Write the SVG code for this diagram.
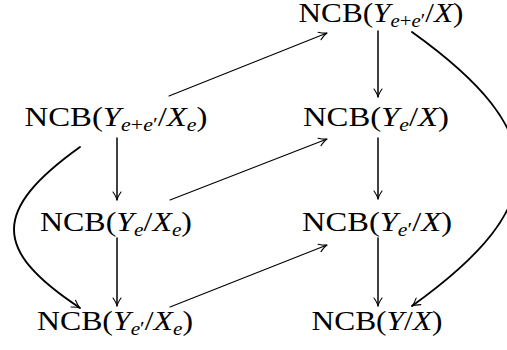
<svg xmlns="http://www.w3.org/2000/svg" width="507" height="350" viewBox="0 0 507 350">
<style>
.lbl{font-family:"Liberation Serif","Times New Roman",serif;font-size:27px;fill:#000;text-anchor:middle}
.it{font-style:italic}
.sb{font-size:18px}
.ln{fill:none;stroke:#000;stroke-linecap:round}
.v{stroke-width:1.5}
.d{stroke-width:1.1}
.c{stroke-width:1.9}
</style>
<defs>
<marker id="ah" viewBox="-10 -6 12 12" refX="0" refY="0" markerWidth="12" markerHeight="12" markerUnits="userSpaceOnUse" orient="auto" overflow="visible">
<path d="M -8 -4 Q -3 -0.6 0 0 Q -3 0.6 -8 4" fill="none" stroke="#000" stroke-width="1.1" stroke-linecap="round"/>
</marker>
</defs>
<rect width="507" height="350" fill="#fff"/>
<g id="connectors">
<path class="ln v" d="M378 31 L378 97" marker-end="url(#ah)"/>
<path class="ln v" d="M378 138 L378 199" marker-end="url(#ah)"/>
<path class="ln v" d="M378 238 L378 306" marker-end="url(#ah)"/>
<path class="ln v" d="M117 138 L117 200" marker-end="url(#ah)"/>
<path class="ln v" d="M117 238 L117 306" marker-end="url(#ah)"/>
<path class="ln d" d="M169 96 L327 33" marker-end="url(#ah)"/>
<path class="ln d" d="M170 200 L327 139" marker-end="url(#ah)"/>
<path class="ln d" d="M170 307 L327 245" marker-end="url(#ah)"/>
<path class="ln c" d="M80 147 C -8 210 -8 250 80 308" marker-end="url(#ah)"/>
<path class="ln c" d="M412 32 C 553 133 553 205 412 306" marker-end="url(#ah)"/>
</g>
<g id="n-top">
<text class="lbl" x="381" y="22" textLength="165" lengthAdjust="spacingAndGlyphs">NCB(<tspan class="it">Y</tspan><tspan class="sb it" dy="5">e</tspan><tspan class="sb">+</tspan><tspan class="sb it">e</tspan><tspan class="sb">′</tspan><tspan dy="-5">/</tspan><tspan class="it">X</tspan>)</text>
</g>
<g id="n-l2">
<text class="lbl" x="116" y="126" textLength="183" lengthAdjust="spacingAndGlyphs">NCB(<tspan class="it">Y</tspan><tspan class="sb it" dy="5">e</tspan><tspan class="sb">+</tspan><tspan class="sb it">e</tspan><tspan class="sb">′</tspan><tspan dy="-5">/</tspan><tspan class="it">X</tspan><tspan class="sb it" dy="5">e</tspan><tspan dy="-5">)</tspan></text>
</g>
<g id="n-r2">
<text class="lbl" x="376" y="126" textLength="146" lengthAdjust="spacingAndGlyphs">NCB(<tspan class="it">Y</tspan><tspan class="sb it" dy="5">e</tspan><tspan dy="-5">/</tspan><tspan class="it">X</tspan>)</text>
</g>
<g id="n-l3">
<text class="lbl" x="116" y="231" textLength="152" lengthAdjust="spacingAndGlyphs">NCB(<tspan class="it">Y</tspan><tspan class="sb it" dy="5">e</tspan><tspan dy="-5">/</tspan><tspan class="it">X</tspan><tspan class="sb it" dy="5">e</tspan><tspan dy="-5">)</tspan></text>
</g>
<g id="n-r3">
<text class="lbl" x="377" y="231" textLength="150" lengthAdjust="spacingAndGlyphs">NCB(<tspan class="it">Y</tspan><tspan class="sb it" dy="5">e</tspan><tspan class="sb">′</tspan><tspan dy="-5">/</tspan><tspan class="it">X</tspan>)</text>
</g>
<g id="n-l4">
<text class="lbl" x="115" y="330" textLength="156" lengthAdjust="spacingAndGlyphs">NCB(<tspan class="it">Y</tspan><tspan class="sb it" dy="5">e</tspan><tspan class="sb">′</tspan><tspan dy="-5">/</tspan><tspan class="it">X</tspan><tspan class="sb it" dy="5">e</tspan><tspan dy="-5">)</tspan></text>
</g>
<g id="n-r4">
<text class="lbl" x="377" y="330" textLength="131" lengthAdjust="spacingAndGlyphs">NCB(<tspan class="it">Y</tspan>/<tspan class="it">X</tspan>)</text>
</g>
</svg>
